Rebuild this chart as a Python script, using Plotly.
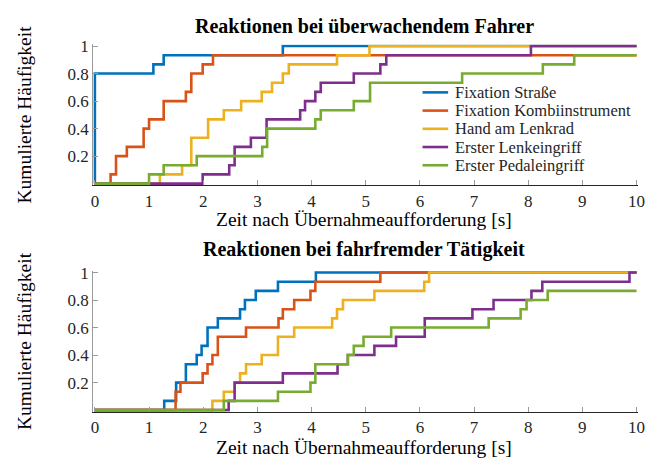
import plotly.graph_objects as go

# ---------------- data ----------------
series_names = ["Fixation Straße", "Fixation Kombiinstrument", "Hand am Lenkrad",
                "Erster Lenkeingriff", "Erster Pedaleingriff"]
series_colors = ["#0072BD", "#D95319", "#EDB120", "#7E2F8E", "#77AC30"]

# Panel 1: Reaktionen bei überwachendem Fahrer  (step positions / cumulative levels)
top_blue_x = [0, 0, 1.08, 1.27, 3.47, 10]
top_blue_y = [0, 0.8, 0.867, 0.933, 1.0, 1.0]
top_red_x = [0, 0.29, 0.39, 0.59, 0.90, 1.0, 1.27, 1.68, 1.78, 1.99, 2.18, 10]
top_red_y = [0, 0.067, 0.2, 0.267, 0.4, 0.467, 0.6, 0.667, 0.8, 0.867, 0.933, 0.933]
top_orange_x = [0, 1.2, 1.61, 1.78, 2.09, 2.38, 2.70, 3.08, 3.27, 3.47, 3.58, 4.47, 5.07, 10]
top_orange_y = [0, 0.067, 0.133, 0.333, 0.467, 0.533, 0.6, 0.667, 0.733, 0.8, 0.867, 0.933, 1.0, 1.0]
top_purple_x = [0, 1.99, 2.48, 2.58, 2.88, 3.17, 3.79, 3.88, 4.07, 4.17, 4.78, 5.27, 5.38, 8.05, 10]
top_purple_y = [0, 0.067, 0.133, 0.267, 0.333, 0.467, 0.533, 0.6, 0.667, 0.733, 0.8, 0.867, 0.933, 1.0, 1.0]
top_green_x = [0, 1.0, 1.27, 1.88, 3.09, 3.18, 4.07, 4.17, 4.78, 5.08, 6.78, 8.27, 8.85, 10]
top_green_y = [0, 0.067, 0.133, 0.2, 0.267, 0.4, 0.467, 0.533, 0.6, 0.733, 0.8, 0.867, 0.933, 0.933]

# Panel 2: Reaktionen bei fahrfremder Tätigkeit
bot_blue_x = [0, 1.28, 1.5, 1.68, 1.88, 1.97, 2.08, 2.27, 2.68, 2.77, 2.97, 3.38, 4.08, 10]
bot_blue_y = [0, 0.067, 0.2, 0.333, 0.4, 0.467, 0.6, 0.667, 0.733, 0.8, 0.867, 0.933, 1.0, 1.0]
bot_red_x = [0, 1.49, 1.58, 1.99, 2.08, 2.17, 2.27, 2.79, 3.39, 3.47, 3.68, 3.98, 4.07, 5.27, 10]
bot_red_y = [0, 0.133, 0.2, 0.267, 0.333, 0.4, 0.533, 0.6, 0.667, 0.733, 0.8, 0.867, 0.933, 1.0, 1.0]
bot_orange_x = [0, 2.17, 2.38, 2.58, 2.68, 2.79, 3.08, 3.38, 3.68, 4.38, 4.47, 4.58, 5.16, 6.08, 6.17, 10]
bot_orange_y = [0, 0.067, 0.133, 0.2, 0.267, 0.333, 0.4, 0.533, 0.6, 0.667, 0.733, 0.8, 0.867, 0.933, 1.0, 1.0]
bot_purple_x = [0, 2.47, 2.58, 3.47, 4.48, 4.67, 5.16, 5.56, 6.09, 6.97, 7.36, 8.06, 8.26, 9.87, 10]
bot_purple_y = [0, 0.067, 0.2, 0.267, 0.333, 0.4, 0.467, 0.533, 0.667, 0.733, 0.8, 0.867, 0.933, 1.0, 1.0]
bot_green_x = [0, 2.38, 3.38, 3.98, 4.07, 4.67, 4.78, 4.96, 5.47, 7.27, 7.86, 7.97, 8.36, 10]
bot_green_y = [0, 0.067, 0.133, 0.2, 0.333, 0.4, 0.467, 0.533, 0.6, 0.667, 0.733, 0.8, 0.867, 0.867]

x_tick_vals = list(range(0, 11))
y_tick_vals = [0.2, 0.4, 0.6, 0.8, 1]
y_tick_text = ["0.2", "0.4", "0.6", "0.8", "1"]

title_top = "Reaktionen bei überwachendem Fahrer"
title_bot = "Reaktionen bei fahrfremder Tätigkeit"
x_label = "Zeit nach Übernahmeaufforderung [s]"
y_label = "Kumulierte Häufigkeit"

# ---------------- figure ----------------
FONT = "'Liberation Serif', 'Times New Roman', serif"
W, H = 659, 459
fig = go.Figure()

top_sets = [(top_blue_x, top_blue_y), (top_red_x, top_red_y), (top_orange_x, top_orange_y),
            (top_purple_x, top_purple_y), (top_green_x, top_green_y)]
bot_sets = [(bot_blue_x, bot_blue_y), (bot_red_x, bot_red_y), (bot_orange_x, bot_orange_y),
            (bot_purple_x, bot_purple_y), (bot_green_x, bot_green_y)]

LW = 2.6
for i, (xs, ys) in enumerate(top_sets):
    fig.add_trace(go.Scatter(x=xs, y=ys, mode="lines", line_shape="hv",
                             line=dict(color=series_colors[i], width=LW),
                             name=series_names[i], xaxis="x", yaxis="y", showlegend=False))
for i, (xs, ys) in enumerate(bot_sets):
    fig.add_trace(go.Scatter(x=xs, y=ys, mode="lines", line_shape="hv",
                             line=dict(color=series_colors[i], width=LW),
                             name=series_names[i], xaxis="x2", yaxis="y2", showlegend=False))

xdom = [91.65 / W, 644.95 / W]
ydom_top = [(H - 181.0) / H, (H - 38.0) / H]
ydom_bot = [(H - 411.0) / H, (H - 268.0) / H]

TICKFONT = dict(family=FONT, size=17, color="#262626")
xaxis_common = dict(range=[-0.03, 10.03], tickvals=x_tick_vals, ticks="inside", ticklen=5,
                    tickcolor="#9a9a9a", tickwidth=1, showline=True, linecolor="#262626",
                    linewidth=1, showgrid=False, zeroline=False, tickfont=TICKFONT)
yaxis_common = dict(range=[-0.012, 1.012], tickvals=y_tick_vals, ticktext=y_tick_text,
                    ticks="inside", ticklen=5, tickcolor="#9a9a9a", tickwidth=1,
                    showline=True, linecolor="#9a9a9a", linewidth=1, showgrid=False,
                    zeroline=False, tickfont=TICKFONT)

fig.update_layout(
    width=W, height=H,
    margin=dict(l=0, r=0, t=0, b=0),
    paper_bgcolor="white", plot_bgcolor="white",
    xaxis=dict(domain=xdom, anchor="y", **xaxis_common),
    yaxis=dict(domain=ydom_top, anchor="x", **yaxis_common),
    xaxis2=dict(domain=xdom, anchor="y2", **xaxis_common),
    yaxis2=dict(domain=ydom_bot, anchor="x2", **yaxis_common),
    showlegend=False,
)

def ann(text, x, y, size, bold=False, angle=0, xanchor="center", color="#000000"):
    fig.add_annotation(text=("<b>%s</b>" % text) if bold else text,
                       x=x / W, y=(H - y) / H, xref="paper", yref="paper",
                       showarrow=False, textangle=angle, xanchor=xanchor, yanchor="middle",
                       font=dict(family=FONT, size=size, color=color))

ann(title_top, 367, 19, 20, bold=True)
ann(title_bot, 367, 246, 20, bold=True)
ann(x_label, 367, 215.5, 19.5)
ann(x_label, 367, 447, 19.5)
ann(y_label, 22, 109.5, 19.5, angle=-90)
ann(y_label, 22, 339.5, 19.5, angle=-90)

# legend (inside the upper panel)
for i, name in enumerate(series_names):
    yy = 86.7 + i * 18.5
    fig.add_shape(type="line", xref="paper", yref="paper",
                  x0=426 / W, x1=452 / W, y0=(H - yy) / H, y1=(H - yy) / H,
                  line=dict(color=series_colors[i], width=LW))
    fig.add_annotation(text=name, x=457 / W, y=(H - yy) / H, xref="paper", yref="paper",
                       showarrow=False, xanchor="left", yanchor="middle",
                       font=dict(family=FONT, size=16.5, color="#262626"))

fig.write_html("out.html", config={"displayModeBar": False},
               post_script="document.body.style.margin='0';document.body.style.overflow='hidden';")
